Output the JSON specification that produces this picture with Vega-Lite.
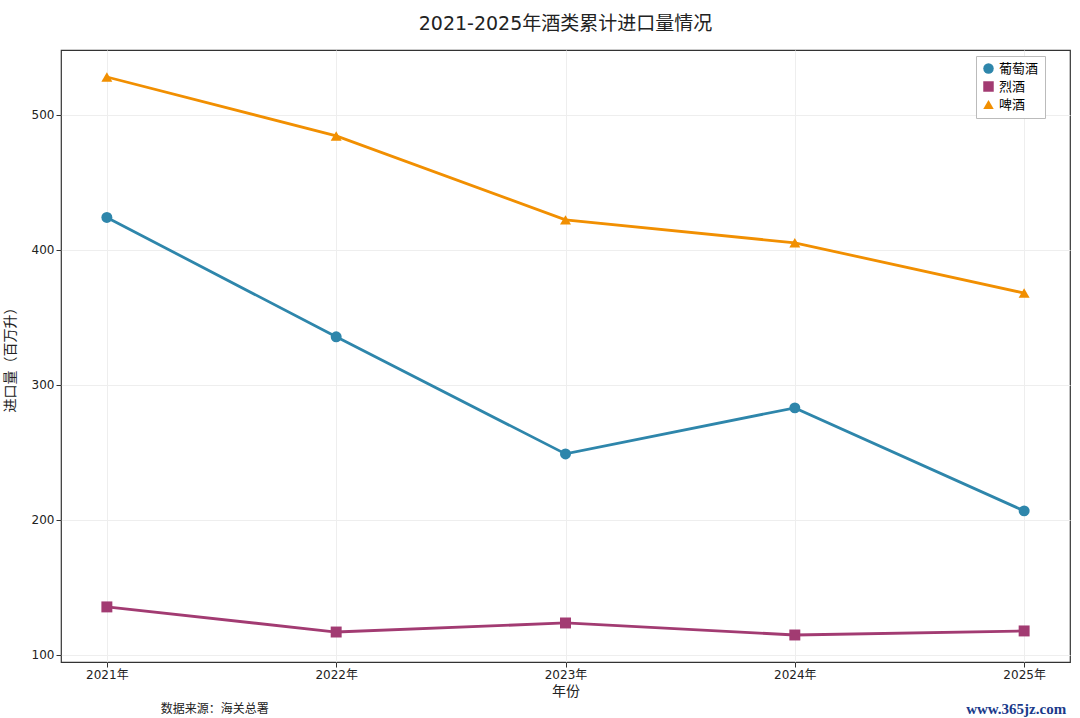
{
"$schema":"https://vega.github.io/schema/vega-lite/v6.json",
"width":1009,"height":612,
"autosize":{"type":"none"},
"padding":{"left":61,"top":50,"right":10,"bottom":56},
"background":"white",
"title":{"text":"2021-2025年酒类累计进口量情况","fontSize":19,"font":"DejaVu Sans, Noto Sans CJK SC","fontWeight":"normal","offset":16,"color":"#222"},
"config":{"font":"DejaVu Sans, Noto Sans CJK SC","view":{"stroke":"#333","strokeWidth":1.2},
"axis":{"labelFontSize":12,"titleFontSize":14,"titleFontWeight":"normal","labelColor":"#222","titleColor":"#222","gridColor":"#eee","domain":false,"tickColor":"#333"},
"legend":{"orient":"none","legendX":915,"legendY":6,"labelFontSize":13,"fillColor":"white","strokeColor":"#bbb","padding":6,"symbolSize":110,"rowPadding":4,"symbolStrokeWidth":0}},
"datasets":{"d":[
{"year":"2021年","type":"葡萄酒","v":424},{"year":"2022年","type":"葡萄酒","v":335.6},{"year":"2023年","type":"葡萄酒","v":248.9},{"year":"2024年","type":"葡萄酒","v":283},{"year":"2025年","type":"葡萄酒","v":206.7},
{"year":"2021年","type":"烈酒","v":135.6},{"year":"2022年","type":"烈酒","v":117},{"year":"2023年","type":"烈酒","v":123.7},{"year":"2024年","type":"烈酒","v":114.8},{"year":"2025年","type":"烈酒","v":117.8},
{"year":"2021年","type":"啤酒","v":528},{"year":"2022年","type":"啤酒","v":484.4},{"year":"2023年","type":"啤酒","v":422.2},{"year":"2024年","type":"啤酒","v":405.2},{"year":"2025年","type":"啤酒","v":368}
]},
"layer":[
{"data":{"name":"d"},
"mark":{"type":"line","strokeWidth":2.8},
"encoding":{
"x":{"field":"year","type":"ordinal","scale":{"type":"point","padding":0.2},"axis":{"labelAngle":0,"title":"年份","grid":true,"titlePadding":4}},
"y":{"field":"v","type":"quantitative","scale":{"domain":[94.8,548],"nice":false,"zero":false},"axis":{"values":[100,200,300,400,500],"title":"进口量（百万升）","grid":true,"titlePadding":14}},
"color":{"field":"type","type":"nominal","scale":{"domain":["葡萄酒","烈酒","啤酒"],"range":["#2E86AB","#A23B72","#F18F01"]},"legend":{"title":null}}}},
{"data":{"name":"d"},
"mark":{"type":"point","filled":true,"opacity":1,"size":120},
"encoding":{
"x":{"field":"year","type":"ordinal","scale":{"type":"point","padding":0.2}},
"y":{"field":"v","type":"quantitative"},
"shape":{"field":"type","type":"nominal","scale":{"domain":["葡萄酒","烈酒","啤酒"],"range":["circle","square","triangle-up"]},"legend":{"title":null}},
"color":{"field":"type","type":"nominal","scale":{"domain":["葡萄酒","烈酒","啤酒"],"range":["#2E86AB","#A23B72","#F18F01"]},"legend":{"title":null}}}},
{"data":{"values":[{"t":"数据来源：海关总署"}]},
"mark":{"type":"text","fontSize":12,"dy":47,"dx":108,"color":"#222"},
"encoding":{"x":{"datum":"2021年"},"y":{"datum":94.8},"text":{"field":"t"}}},
{"data":{"values":[{"t":"www.365jz.com"}]},
"mark":{"type":"text","fontSize":15,"dy":47,"dx":-8,"color":"#1a3a8a","font":"Liberation Serif","fontWeight":"bold"},
"encoding":{"x":{"datum":"2025年"},"y":{"datum":94.8},"text":{"field":"t"}}}
]}
